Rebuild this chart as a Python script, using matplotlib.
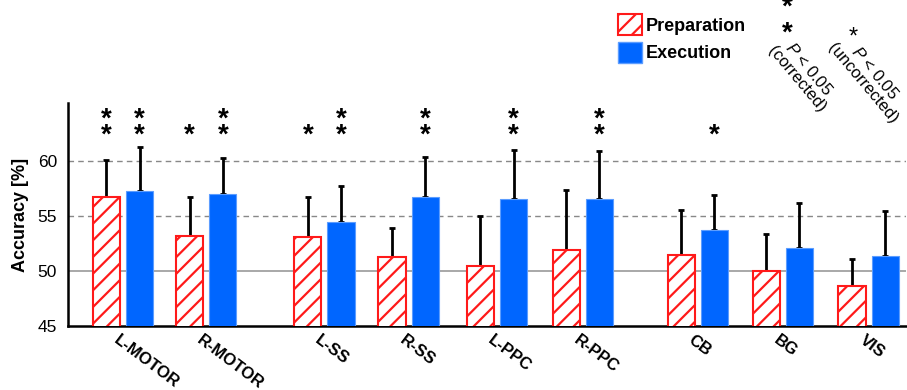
import numpy as np
import matplotlib
matplotlib.use('Agg')
import matplotlib.pyplot as plt
import matplotlib.transforms as mtransforms
from matplotlib.patches import Patch

plt.rcParams['font.family'] = ['Liberation Sans', 'DejaVu Sans']
plt.rcParams['mathtext.fontset'] = 'custom'
plt.rcParams['mathtext.it'] = 'Liberation Sans:italic'
plt.rcParams['mathtext.rm'] = 'Liberation Sans'
plt.rcParams['hatch.linewidth'] = 1.6

# data
regions = ['L-MOTOR', 'R-MOTOR', 'L-SS', 'R-SS', 'L-PPC', 'R-PPC', 'CB', 'BG', 'VIS']
group_pos = [0, 0.98, 2.37, 3.36, 4.40, 5.41, 6.76, 7.76, 8.77]
prep_mean = [56.75, 53.2, 53.1, 51.25, 50.45, 51.9, 51.45, 50.05, 48.65]
prep_sem = [3.35, 3.5, 3.65, 2.65, 4.55, 5.45, 4.15, 3.35, 2.45]
exec_mean = [57.25, 57.0, 54.5, 56.7, 56.6, 56.55, 53.7, 52.1, 51.35]
exec_sem = [4.05, 3.25, 3.25, 3.7, 4.45, 4.35, 3.25, 4.1, 4.15]
# 2 = corrected (two stars), 1 = uncorrected (one star)
prep_sig = [2, 1, 1, 0, 0, 0, 0, 0, 0]
exec_sig = [2, 2, 2, 2, 2, 2, 1, 0, 0]

red = '#ff1a1a'
blue = '#0066ff'

fig = plt.figure(figsize=(9.07, 3.9), dpi=100)
ax = fig.add_axes([68 / 907, 1 - 326 / 390, (906 - 68) / 907, (326 - 103) / 390])

x = np.array(group_pos)
w = 0.32
off = 0.195

ax.bar(x - off, prep_mean, w, color='white', edgecolor=red,
       hatch='//', linewidth=1.5, zorder=3)
ax.bar(x + off, exec_mean, w, color=blue, edgecolor='#5c9dff', linewidth=0.8, zorder=3)

zeros = np.zeros(len(x))
ax.errorbar(x - off, prep_mean, yerr=[zeros, prep_sem], fmt='none', ecolor='black',
            elinewidth=2, capsize=2.5, capthick=2, zorder=2)
ax.errorbar(x + off, exec_mean, yerr=[zeros, exec_sem], fmt='none', ecolor='black',
            elinewidth=2, capsize=2.5, capthick=2, zorder=2)

# significance stars
def stars(xs, sig):
    for xi, s in zip(xs, sig):
        if s == 1:
            ax.text(xi, 61.7, '*', ha='center', va='baseline', fontsize=20,
                    fontweight='bold', clip_on=False)
        elif s == 2:
            ax.text(xi, 61.7, '*\n*', ha='center', va='baseline', fontsize=20,
                    fontweight='bold', linespacing=0.5, clip_on=False)

stars(x - off, prep_sig)
stars(x + off, exec_sig)

# reference lines
ax.axhline(50, color='#999999', lw=1.2, zorder=1)
for yv in [55, 60]:
    ax.axhline(yv, color='#888888', lw=1, ls=(0, (4, 3)), zorder=1)

ax.set_ylim(45, 65.3)
ax.set_xlim(-0.646, 9.21)
ax.set_yticks([45, 50, 55, 60])
ax.tick_params(axis='y', length=0, pad=8, labelsize=12.5)
ax.tick_params(axis='x', length=0)
ax.set_xticks(x)
ax.set_xticklabels(regions, rotation=-37, ha='left', va='top', fontsize=12,
                   fontweight='bold')
shift = mtransforms.ScaledTranslation(-12 / 100, -2 / 100, fig.dpi_scale_trans)
for lab in ax.get_xticklabels():
    lab.set_transform(lab.get_transform() + shift)

ax.set_ylabel('Accuracy [%]', fontsize=13, fontweight='bold', labelpad=6)
for s in ['top', 'right']:
    ax.spines[s].set_visible(False)
for s in ['left', 'bottom']:
    ax.spines[s].set_linewidth(1.8)

handles = [Patch(facecolor='white', edgecolor=red, hatch='//', linewidth=1.5, label='Preparation'),
           Patch(facecolor=blue, edgecolor='#5c9dff', label='Execution')]
fig.legend(handles=handles, loc='upper left', bbox_to_anchor=(609 / 907, 1 - 5 / 390),
           frameon=False, prop={'weight': 'bold', 'size': 13}, handlelength=1.3,
           handleheight=1.45, handletextpad=0.25, labelspacing=0.35, borderpad=0)

# significance key
def fx(px):
    return px / 907

def fy(py):
    return 1 - py / 390

fig.text(fx(787), fy(25) - 16 / 390, '*\n*', ha='center', va='baseline', fontsize=20,
         fontweight='bold', linespacing=1.0)
fig.text(fx(853), fy(30) - 14 / 390, '*', ha='center', va='baseline', fontsize=17)
fig.text(fx(803), fy(74), '$P$ < 0.05\n(corrected)', ha='center', va='center',
         rotation=-50, multialignment='center', fontsize=12, linespacing=1.0)
fig.text(fx(869), fy(78), '$P$ < 0.05\n(uncorrected)', ha='center', va='center',
         rotation=-50, multialignment='center', fontsize=12, linespacing=1.0)

fig.savefig('out.png', dpi=100)
